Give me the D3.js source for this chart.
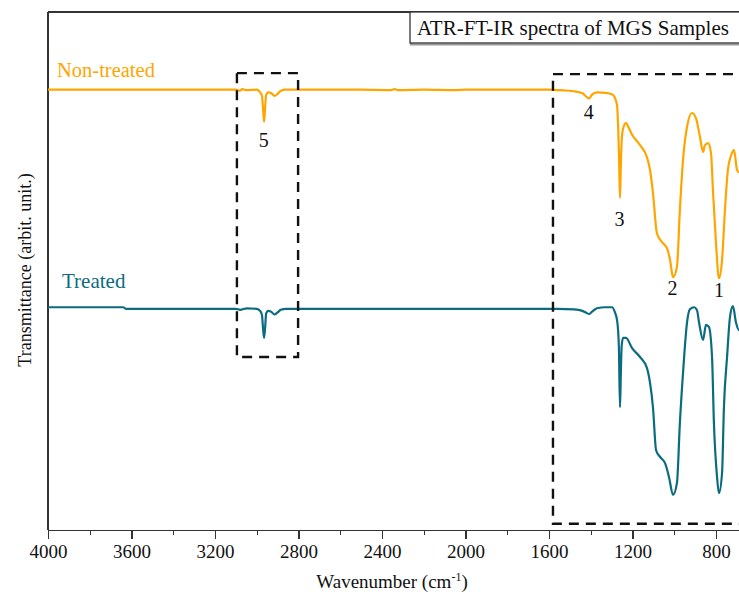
<!DOCTYPE html>
<html lang="en">
<head>
<meta charset="utf-8">
<title>ATR-FT-IR spectra of MGS Samples</title>
<style>
body { margin: 0; background: #fff; }
svg { display: block; font-family: "Liberation Serif", "Times New Roman", serif; }
.axis path, .axis line { stroke: #333; stroke-width: 1.3; shape-rendering: crispEdges; }
.axis text { font-size: 19px; fill: #111; font-family: "Liberation Serif", serif; }
.frame { stroke: #333; stroke-width: 1.3; fill: none; shape-rendering: crispEdges; }
.spectrum { fill: none; stroke-width: 2.2; stroke-linejoin: round; }
.zoombox { fill: none; stroke: #111; stroke-width: 2.4; stroke-dasharray: 10,7; }
.peak { font-size: 20px; fill: #111; text-anchor: middle; }
</style>
</head>
<body>
<script src="https://d3js.org/d3.v7.min.js"></script>
<script>

// wavenumber (cm-1) , transmittance (arbitrary, curves offset)
var nonTreated = [
  [4000, 85.0], [3700, 85.0], [3300, 85.0], [3100, 85.0], [3080, 84.8], [3070, 85.1],
  [3047, 84.9], [3000, 85.0], [2984, 84.5], [2975, 83.8], [2970, 81.5], [2965, 78.8],
  [2960, 81.5], [2955, 84.0], [2945, 84.5], [2930, 84.3], [2915, 83.8], [2900, 84.2],
  [2885, 84.8], [2860, 85.0], [2700, 85.0], [2500, 85.0], [2360, 84.9], [2340, 85.1],
  [2320, 84.9], [2200, 85.0], [2050, 84.9], [2000, 85.0], [1700, 85.0], [1600, 85.0],
  [1550, 84.9], [1480, 84.7], [1440, 84.3], [1420, 83.6], [1408, 83.3], [1395, 84.0],
  [1370, 84.5], [1330, 84.4], [1298, 84.1], [1284, 83.4], [1274, 82.0], [1269, 78.0],
  [1265, 73.0], [1260, 64.1], [1256, 70.0], [1252, 75.0], [1245, 77.5], [1231, 78.6],
  [1222, 78.0], [1202, 76.3], [1164, 74.3], [1131, 72.0], [1116, 69.5], [1102, 65.1],
  [1083, 57.3], [1059, 55.6], [1035, 54.4], [1020, 52.1], [1006, 48.8], [987, 50.8],
  [973, 61.8], [958, 71.4], [939, 77.8], [915, 80.5], [896, 79.5], [877, 75.9],
  [862, 73.0], [853, 74.3], [838, 74.7], [824, 72.8], [814, 65.1], [800, 55.4],
  [786, 48.6], [771, 52.1], [757, 61.8], [743, 69.5], [723, 72.8], [714, 73.4],
  [699, 69.5], [690, 69.1], [670, 70.0], [650, 72.0]
];

var treated = [
  [4000, 43.0], [3640, 43.0], [3625, 42.7], [3300, 42.7], [3100, 42.7], [3080, 42.5],
  [3047, 42.8], [3000, 42.7], [2984, 42.3], [2975, 41.5], [2970, 39.0], [2965, 37.1],
  [2960, 39.0], [2955, 41.8], [2945, 42.3], [2930, 42.1], [2915, 41.6], [2900, 42.0],
  [2885, 42.5], [2860, 42.7], [2500, 42.7], [2000, 42.7], [1700, 42.7], [1600, 42.7],
  [1560, 42.7], [1480, 42.6], [1440, 42.3], [1420, 41.9], [1408, 41.7], [1395, 42.1],
  [1370, 42.8], [1330, 43.0], [1298, 43.0], [1284, 42.0], [1274, 40.5], [1269, 38.5],
  [1265, 35.0], [1260, 23.7], [1256, 30.0], [1252, 35.5], [1245, 37.1], [1231, 37.1],
  [1202, 35.1], [1164, 33.4], [1131, 31.3], [1116, 28.4], [1102, 23.7], [1087, 15.4],
  [1068, 14.1], [1044, 12.9], [1025, 10.2], [1006, 6.8], [987, 9.1], [973, 20.7],
  [958, 30.3], [939, 40.0], [925, 42.6], [905, 43.0], [891, 42.4], [881, 40.0], [862, 36.7],
  [848, 39.6], [834, 39.2], [819, 33.4], [810, 20.7], [795, 10.2], [786, 7.1],
  [771, 11.0], [762, 23.7], [747, 33.4], [733, 41.1], [719, 43.2], [704, 40.0],
  [690, 38.6], [670, 40.0], [650, 42.0]
];

var majorTicks = [4000, 3600, 3200, 2800, 2400, 2000, 1600, 1200, 800];
var minorTicks = [3800, 3400, 3000, 2600, 2200, 1800, 1400, 1000];

// numbered bands: [label, wavenumber, text level]
var peakLabels = [["1", 786, 46.4], ["2", 1008, 46.8], ["3", 1262, 60.0], ["4", 1410, 80.7], ["5", 2967, 75.3]];

// dashed regions: [wn from, wn to, level top, level bottom]
var regions = [[3095, 2802, 88.2, 33.4], [1581, 560, 88.0, 1.2]];

var width = 739, height = 597;
var leftX = 48, topY = 12, bottomY = 530;

var x = d3.scaleLinear().domain([4000, 600]).range([leftX, leftX + 3400 * 0.20875]);
var y = d3.scaleLinear().domain([0, 100]).range([bottomY, bottomY - 518]);

var svg = d3.select("body").append("svg")
    .attr("width", width)
    .attr("height", height);

// frame: left and top
svg.append("line").attr("class", "frame")
    .attr("x1", leftX).attr("x2", leftX).attr("y1", topY).attr("y2", bottomY);
svg.append("line").attr("class", "frame")
    .attr("x1", leftX).attr("x2", width + 20).attr("y1", topY).attr("y2", topY);

// axes
svg.append("g")
    .attr("class", "axis")
    .attr("transform", "translate(0," + bottomY + ")")
    .call(d3.axisBottom(x).tickValues(minorTicks).tickSize(5).tickFormat("").tickSizeOuter(0));

svg.append("g")
    .attr("class", "axis")
    .attr("transform", "translate(0," + bottomY + ")")
    .call(d3.axisBottom(x).tickValues(majorTicks).tickSize(9).tickPadding(6)
        .tickFormat(d3.format("d")).tickSizeOuter(0));

// spectra
var line = d3.line()
    .x(function(d) { return x(d[0]); })
    .y(function(d) { return y(d[1]); })
    .curve(d3.curveMonotoneX);

svg.append("path").attr("class", "spectrum")
    .style("stroke", "#ffa500")
    .attr("d", line(nonTreated));

svg.append("path").attr("class", "spectrum")
    .style("stroke", "#0b6b80")
    .attr("d", line(treated));

// dashed boxes
regions.forEach(function(r) {
    svg.append("rect").attr("class", "zoombox")
        .attr("x", x(r[0]))
        .attr("y", y(r[2]))
        .attr("width", x(r[1]) - x(r[0]))
        .attr("height", y(r[3]) - y(r[2]));
});

// peak numbers
peakLabels.forEach(function(p) {
    svg.append("text").attr("class", "peak")
        .attr("x", x(p[1]))
        .attr("y", y(p[2]))
        .attr("dy", "0.35em")
        .text(p[0]);
});

// series labels
svg.append("text")
    .attr("x", 57).attr("y", 77)
    .style("font-size", "20.5px").style("fill", "#ffa500")
    .text("Non-treated");

svg.append("text")
    .attr("x", 62).attr("y", 288)
    .style("font-size", "21px").style("fill", "#0b6b80")
    .text("Treated");

// title box
svg.append("rect")
    .attr("x", 411).attr("y", topY + 1.5)
    .attr("width", 360).attr("height", 31)
    .style("fill", "none").style("stroke", "#999").style("stroke-width", 2);
svg.append("rect")
    .attr("x", 410).attr("y", topY)
    .attr("width", 360).attr("height", 31)
    .style("fill", "#fff").style("stroke", "#333").style("stroke-width", 1.3);
svg.append("text")
    .attr("x", 417).attr("y", 35)
    .style("font-size", "21px").style("fill", "#111")
    .text("ATR-FT-IR spectra of MGS Samples");

// axis titles
svg.append("text")
    .attr("transform", "translate(31,270) rotate(-90)")
    .attr("text-anchor", "middle")
    .style("font-size", "18px").style("fill", "#111")
    .text("Transmittance (arbit. unit.)");

var xt = svg.append("text")
    .attr("x", 392).attr("y", 588)
    .attr("text-anchor", "middle")
    .style("font-size", "19px").style("fill", "#111");
xt.append("tspan").text("Wavenumber (cm");
xt.append("tspan").attr("dy", -7).style("font-size", "12px").text("-1");
xt.append("tspan").attr("dy", 7).text(")");

</script>
</body>
</html>
